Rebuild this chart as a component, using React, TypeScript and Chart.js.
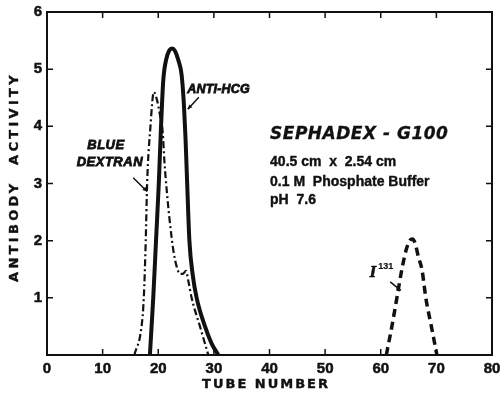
import React, { useEffect, useRef } from "react";
import { Chart, registerables } from "chart.js";

Chart.register(...registerables);

// Anti-HCG (solid heavy line)
const antiHcgX = [18.5, 18.8, 19.1, 19.6, 20.1, 20.5, 20.9, 21.4, 22.0, 22.5, 23.0, 23.6, 24.2, 24.6, 24.9, 25.2, 25.6, 26.2, 26.9, 28.4, 29.6, 30.8];
const antiHcgY = [0, 0.5, 1.0, 2.0, 3.0, 4.0, 4.8, 5.16, 5.33, 5.36, 5.32, 5.16, 4.9, 4.4, 3.8, 3.0, 2.0, 1.4, 1.0, 0.5, 0.2, 0];

// Blue Dextran (dash-dot line)
const blueDextranX = [15.7, 17.0, 17.4, 17.75, 18.0, 18.6, 19.2, 19.8, 20.3, 20.8, 21.1, 21.6, 22.0, 22.7, 23.3, 23.9, 24.4, 25.0, 25.4, 26.0, 27.5, 29.0];
const blueDextranY = [0, 0.5, 1.0, 2.0, 3.0, 4.0, 4.6, 4.45, 4.2, 3.9, 3.4, 2.8, 2.4, 1.84, 1.55, 1.42, 1.42, 1.47, 1.3, 1.0, 0.5, 0];

// I-131 (dashed line)
const iodineX = [61.0, 62.0, 62.9, 63.8, 64.6, 65.2, 65.7, 66.2, 66.8, 67.4, 68.1, 69.1, 70.1];
const iodineY = [0, 0.5, 1.0, 1.5, 1.85, 2.0, 2.03, 1.95, 1.7, 1.5, 1.0, 0.5, 0];

const xTicks = [0, 10, 20, 30, 40, 50, 60, 70, 80];
const yTicks = [1, 2, 3, 4, 5, 6];

const pts = (xs: number[], ys: number[]) => xs.map((x, i) => ({ x, y: ys[i] }));

const INK = "#111";

const decorPlugin = {
  id: "decor",
  afterDraw(chart: any) {
    const { ctx, chartArea: a, scales } = chart;
    const xs = scales.x;
    const ys = scales.y;
    const px = (v: number) => xs.getPixelForValue(v);
    const py = (v: number) => ys.getPixelForValue(v);
    ctx.save();
    // frame
    ctx.strokeStyle = INK;
    ctx.lineWidth = 2;
    ctx.strokeRect(a.left, a.top, a.right - a.left, a.bottom - a.top);
    // inward ticks
    ctx.lineWidth = 1.5;
    const tl = 6;
    for (let v = 10; v <= 70; v += 10) {
      const x = px(v);
      ctx.beginPath();
      ctx.moveTo(x, a.top);
      ctx.lineTo(x, a.top + tl);
      ctx.moveTo(x, a.bottom);
      ctx.lineTo(x, a.bottom - tl);
      ctx.stroke();
    }
    for (let v = 1; v <= 5; v++) {
      const y = py(v);
      ctx.beginPath();
      ctx.moveTo(a.left, y);
      ctx.lineTo(a.left + tl, y);
      ctx.moveTo(a.right, y);
      ctx.lineTo(a.right - tl, y);
      ctx.stroke();
    }

    ctx.fillStyle = INK;
    const text = (s: string, x: number, y: number, font: string, align = "left", spacing = "0px", sw = 0.6) => {
      ctx.font = font;
      ctx.textAlign = align;
      ctx.textBaseline = "middle";
      (ctx as any).letterSpacing = spacing;
      ctx.fillText(s, px(x), py(y));
      if (sw > 0) {
        ctx.lineWidth = sw;
        ctx.strokeText(s, px(x), py(y));
      }
      (ctx as any).letterSpacing = "0px";
    };
    const arrow = (x1: number, y1: number, x2: number, y2: number) => {
      const ax = px(x1), ay = py(y1), bx = px(x2), by = py(y2);
      ctx.lineWidth = 1.5;
      ctx.beginPath();
      ctx.moveTo(ax, ay);
      ctx.lineTo(bx, by);
      ctx.stroke();
      const ang = Math.atan2(by - ay, bx - ax);
      const h = 5;
      ctx.beginPath();
      ctx.moveTo(bx, by);
      ctx.lineTo(bx - h * Math.cos(ang - 0.45), by - h * Math.sin(ang - 0.45));
      ctx.lineTo(bx - h * Math.cos(ang + 0.45), by - h * Math.sin(ang + 0.45));
      ctx.closePath();
      ctx.fill();
    };

    text("ANTI-HCG", 25.2, 4.64, 'italic bold 12.5px "Liberation Sans"', "left", "0.2px", 0.8);
    arrow(27.3, 4.51, 25.3, 4.3);
    text("BLUE", 10.6, 3.67, 'italic bold 13px "Liberation Sans"', "center", "0.5px", 0.8);
    text("DEXTRAN", 11.3, 3.36, 'italic bold 13px "Liberation Sans"', "center", "0.5px", 0.8);
    arrow(15.5, 3.1, 18.0, 2.86);

    text("SEPHADEX - G100", 40.1, 3.85, 'italic bold 17px "DejaVu Sans"', "left", "0.5px", 0.3);
    text("40.5 cm  x  2.54 cm", 40.1, 3.38, 'bold 14px "Liberation Sans"', "left", "0px", 0.4);
    text("0.1 M  Phosphate Buffer", 40.1, 3.03, 'bold 14px "Liberation Sans"', "left", "0px", 0.4);
    text("pH  7.6", 40.1, 2.71, 'bold 14px "Liberation Sans"', "left", "0px", 0.4);

    text("I", 58.6, 1.43, 'italic bold 14px "DejaVu Serif"', "center", "0px", 0.4);
    text("131", 60.9, 1.55, 'bold 9px "Liberation Sans"', "center", "0px", 0.2);
    arrow(61.7, 1.28, 63.6, 1.13);

    // axis titles
    ctx.save();
    ctx.translate(15, 177);
    ctx.rotate(-Math.PI / 2);
    ctx.font = 'bold 13px "DejaVu Sans"';
    ctx.textAlign = "center";
    ctx.textBaseline = "middle";
    (ctx as any).letterSpacing = "3.3px";
    ctx.fillText("ANTIBODY  ACTIVITY", 0, 0);
    ctx.lineWidth = 0.4;
    ctx.strokeText("ANTIBODY  ACTIVITY", 0, 0);
    ctx.restore();

    ctx.font = 'bold 13px "DejaVu Sans"';
    ctx.textAlign = "center";
    ctx.textBaseline = "middle";
    (ctx as any).letterSpacing = "2px";
    ctx.fillText("TUBE NUMBER", 266, 385);
    ctx.lineWidth = 0.4;
    ctx.strokeText("TUBE NUMBER", 266, 385);
    (ctx as any).letterSpacing = "0px";
    ctx.restore();
  },
};

export default function App() {
  const ref = useRef<HTMLCanvasElement | null>(null);
  useEffect(() => {
    if (!ref.current) return;
    const chart = new Chart(ref.current, {
      type: "line",
      data: {
        datasets: [
          {
            label: "Anti-HCG",
            data: pts(antiHcgX, antiHcgY),
            borderColor: INK,
            borderWidth: 4,
            pointRadius: 0,
            cubicInterpolationMode: "monotone",
          },
          {
            label: "Blue Dextran",
            data: pts(blueDextranX, blueDextranY),
            borderColor: INK,
            borderWidth: 2.2,
            borderDash: [7, 3, 2, 3],
            pointRadius: 0,
            cubicInterpolationMode: "monotone",
          },
          {
            label: "I-131",
            data: pts(iodineX, iodineY),
            borderColor: INK,
            borderWidth: 3.5,
            borderDash: [8, 5],
            pointRadius: 0,
            cubicInterpolationMode: "monotone",
          },
        ],
      } as any,
      options: {
        animation: false,
        responsive: false,
        maintainAspectRatio: false,
        events: [],
        layout: { padding: { left: 0, top: 12, right: 8, bottom: 0 } },
        plugins: { legend: { display: false }, tooltip: { enabled: false } },
        scales: {
          x: {
            type: "linear",
            min: 0,
            max: 80,
            grid: { display: false, drawTicks: false },
            border: { display: false },
            afterFit: (s: any) => { s.height = 42; s.paddingLeft = 0; s.paddingRight = 0; },
            afterBuildTicks: (s: any) => { s.ticks = xTicks.map((v) => ({ value: v })); },
            ticks: {
              padding: 5,
              color: INK,
              textStrokeColor: INK,
              textStrokeWidth: 0.5,
              font: { family: "Liberation Sans", weight: "bold", size: 15 },
            },
          },
          y: {
            type: "linear",
            min: 0,
            max: 6,
            grid: { display: false, drawTicks: false },
            border: { display: false },
            afterFit: (s: any) => { s.width = 47; s.paddingTop = 0; s.paddingBottom = 0; },
            afterBuildTicks: (s: any) => { s.ticks = yTicks.map((v) => ({ value: v })); },
            ticks: {
              padding: 5,
              color: INK,
              textStrokeColor: INK,
              textStrokeWidth: 0.5,
              font: { family: "Liberation Sans", weight: "bold", size: 15 },
            },
          },
        },
      } as any,
      plugins: [decorPlugin],
    });
    return () => chart.destroy();
  }, []);
  return (
    <div style={{ position: "fixed", left: 0, top: 0, width: 500, height: 397, background: "#fff" }}>
      <canvas ref={ref} width={500} height={397} style={{ width: 500, height: 397, display: "block" }} />
    </div>
  );
}
